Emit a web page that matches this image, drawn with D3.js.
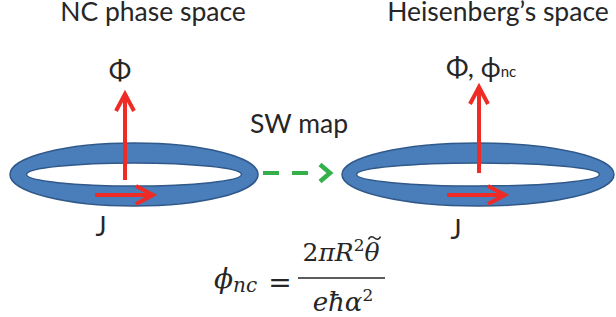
<!DOCTYPE html>
<html>
<head>
<meta charset="utf-8">
<script src="https://cdn.jsdelivr.net/npm/d3@7"></script>
<style>
  html, body { margin: 0; padding: 0; background: #fff; }
  svg { display: block; }
</style>
</head>
<body>
<svg id="chart" width="616" height="317"></svg>
<script>
// diagram content
var titles = ['NC phase space', 'Heisenberg\u2019s space'];
var fluxLabels = ['\u03A6', '\u03A6, \u03D5'];
var currentLabel = 'J';
var mapLabel = 'SW map';

var ringBlue = '#4a7ebb';
var ringEdge = '#30598a';
var red = '#ee2b24';
var green = '#33b04a';
var ink = '#262626';

var svg = d3.select('#chart');

// ring: outer + inner ellipse, hole cut with evenodd
function ellipse(cx, cy, rx, ry) {
    return 'M' + (cx - rx) + ',' + cy +
        'A' + rx + ',' + ry + ' 0 1,0 ' + (cx + rx) + ',' + cy +
        'A' + rx + ',' + ry + ' 0 1,0 ' + (cx - rx) + ',' + cy + 'Z';
}
var rings = [
    {cx: 134, cy: 174.5, rx: 124, ry: 31.5, irx: 107.5, iry: 11.5},
    {cx: 478, cy: 174.5, rx: 136, ry: 31.5, irx: 121.5, iry: 11.5}
];
svg.selectAll('path.ring').data(rings).enter().append('path')
    .attr('class', 'ring')
    .attr('d', function(r) { return ellipse(r.cx, r.cy, r.rx, r.ry) + ellipse(r.cx, r.cy, r.irx, r.iry); })
    .attr('fill', ringBlue)
    .attr('fill-rule', 'evenodd')
    .attr('stroke', ringEdge)
    .attr('stroke-width', 1.5);

// arrows: shaft + open chevron head
function arrow(x1, y1, x2, y2, color) {
    var ang = Math.atan2(y2 - y1, x2 - x1);
    var len = 17, half = 9;
    var bx = x2 - len * Math.cos(ang), by = y2 - len * Math.sin(ang);
    var px = -Math.sin(ang) * half, py = Math.cos(ang) * half;
    svg.append('line')
        .attr('x1', x1).attr('y1', y1)
        .attr('x2', x2 - 2 * Math.cos(ang)).attr('y2', y2 - 2 * Math.sin(ang))
        .attr('stroke', color).attr('stroke-width', 4);
    svg.append('path')
        .attr('d', 'M' + (bx + px) + ',' + (by + py) + 'L' + x2 + ',' + y2 + 'L' + (bx - px) + ',' + (by - py))
        .attr('fill', 'none')
        .attr('stroke', color)
        .attr('stroke-width', 4)
        .attr('stroke-linejoin', 'miter');
}
arrow(125, 180, 125, 94, red);
arrow(95, 195, 153, 195, red);
arrow(479, 173, 479, 87, red);
arrow(447, 195, 505, 195, red);

// green dashed SW map arrow
svg.append('line')
    .attr('x1', 263).attr('y1', 173).attr('x2', 309).attr('y2', 173)
    .attr('stroke', green).attr('stroke-width', 4)
    .attr('stroke-dasharray', '16,13');
svg.append('path')
    .attr('d', 'M320,164.5L330,173L320,181.5')
    .attr('fill', 'none').attr('stroke', green).attr('stroke-width', 4.5);

// texts
var sans = 'Lato, "Open Sans", sans-serif';
function label(x, y, txt, size, anchor) {
    return svg.append('text')
        .attr('x', x).attr('y', y)
        .attr('font-family', sans)
        .attr('font-size', size)
        .attr('fill', ink)
        .attr('text-anchor', anchor || 'start')
        .text(txt);
}
label(153, 21, titles[0], 26.5, 'middle');
label(498, 21, titles[1], 26.5, 'middle');
label(120, 80, fluxLabels[0], 27, 'middle');
var fr = label(446, 77, fluxLabels[1], 27);
fr.append('tspan').attr('font-size', 15).text('nc');
label(299, 133, mapLabel, 26.5, 'middle');
label(101, 236, currentLabel, 26, 'middle');
label(456, 239, currentLabel, 26, 'middle');

// formula
var serif = '"DejaVu Serif", "Liberation Serif", serif';
var lhs = svg.append('text')
    .attr('x', 214).attr('y', 288)
    .attr('font-family', serif).attr('font-style', 'italic')
    .attr('font-size', 28).attr('fill', ink);
lhs.append('tspan').text('\u03D5');
lhs.append('tspan').attr('font-size', 20).attr('dy', 4).text('nc');
svg.append('text')
    .attr('x', 280).attr('y', 292)
    .attr('font-family', serif).attr('font-size', 28).attr('fill', ink)
    .attr('text-anchor', 'middle').text('=');
svg.append('line')
    .attr('x1', 298).attr('y1', 278).attr('x2', 385).attr('y2', 278)
    .attr('stroke', ink).attr('stroke-width', 1.6);
var num = svg.append('text')
    .attr('x', 341).attr('y', 261)
    .attr('font-family', serif).attr('font-size', 25).attr('fill', ink)
    .attr('text-anchor', 'middle');
num.append('tspan').text('2');
num.append('tspan').attr('font-style', 'italic').text('\u03C0R');
num.append('tspan').attr('font-size', 17).attr('dy', -10).text('2');
num.append('tspan').attr('font-style', 'italic').attr('dy', 10).text('\u03B8');
// tilde over theta, drawn as a small wave
var nNode = num.node();
var nChars = nNode.getNumberOfChars();
var thStart = nNode.getStartPositionOfChar(nChars - 1);
var thEnd = nNode.getEndPositionOfChar(nChars - 1);
var tx = (thStart.x + thEnd.x) / 2 + 2.5, ty = 238;
svg.append('path')
    .attr('d', 'M' + (tx - 6) + ',' + (ty + 1.5) +
        'C' + (tx - 4) + ',' + (ty - 3) + ' ' + (tx - 1) + ',' + (ty - 1) + ' ' + tx + ',' + ty +
        'C' + (tx + 1) + ',' + (ty + 1) + ' ' + (tx + 4) + ',' + (ty + 3) + ' ' + (tx + 6) + ',' + (ty - 1.5))
    .attr('fill', 'none').attr('stroke', ink).attr('stroke-width', 1.5);
var den = svg.append('text')
    .attr('x', 343).attr('y', 311)
    .attr('font-family', serif).attr('font-size', 26).attr('fill', ink)
    .attr('text-anchor', 'middle');
den.append('tspan').attr('font-style', 'italic').text('e\u0127\u03B1');
den.append('tspan').attr('font-size', 17).attr('dy', -10).text('2');
</script>
</body>
</html>
